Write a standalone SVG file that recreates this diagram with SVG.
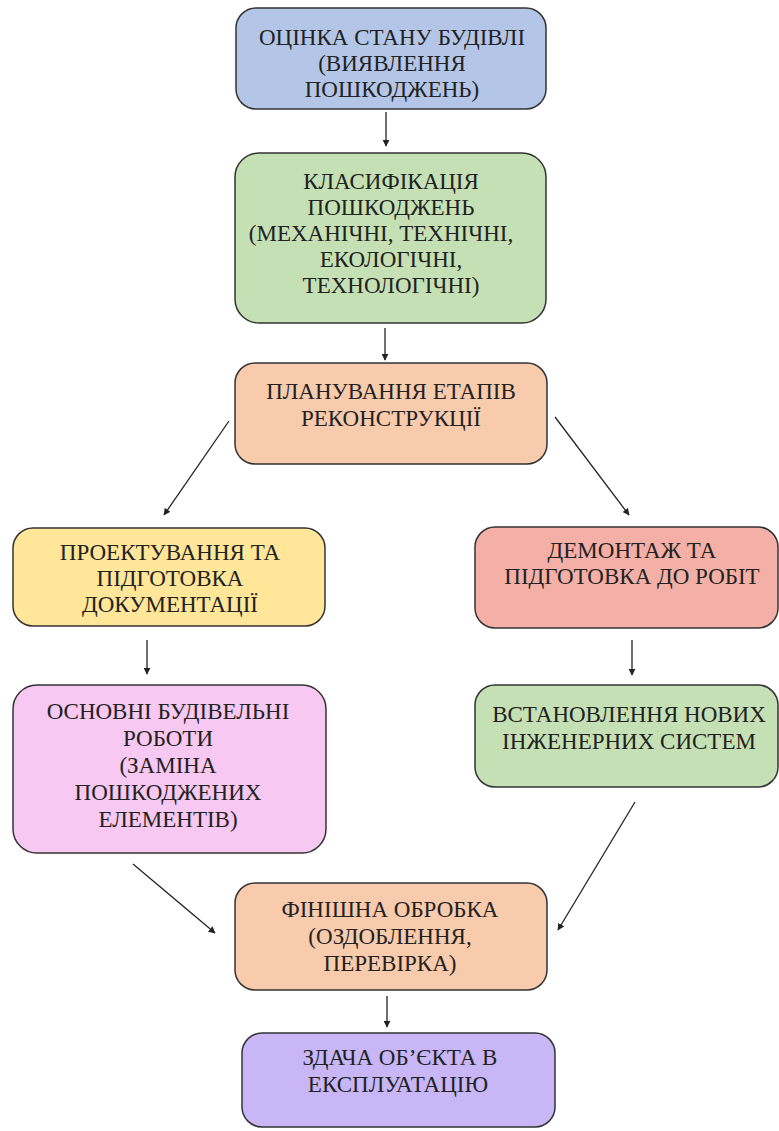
<svg xmlns="http://www.w3.org/2000/svg" width="779" height="1131" viewBox="0 0 779 1131">
<defs>
<style>
.b{stroke:#333;stroke-width:1.5}
.t{font-family:'Liberation Serif','Times New Roman',serif;font-size:23px;fill:#222;text-anchor:middle}
.c{stroke:#222;stroke-width:1.3;fill:none;marker-end:url(#ah)}
</style>
<marker id="ah" viewBox="0 0 10 10" refX="9" refY="5" markerWidth="7" markerHeight="7" orient="auto" markerUnits="userSpaceOnUse">
<path d="M0,0 L10,5 L0,10 z" fill="#222"/>
</marker>
</defs>
<rect width="779" height="1131" fill="#fff"/>
<g id="connectors">
<line class="c" x1="386" y1="112" x2="386" y2="146"/>
<line class="c" x1="385" y1="328" x2="385" y2="360"/>
<line class="c" x1="229" y1="421" x2="164" y2="515"/>
<line class="c" x1="555" y1="417" x2="629" y2="515"/>
<line class="c" x1="147" y1="640" x2="147" y2="674"/>
<line class="c" x1="632" y1="640" x2="632" y2="675"/>
<line class="c" x1="133" y1="864" x2="215" y2="933"/>
<line class="c" x1="635" y1="802" x2="558" y2="930"/>
<line class="c" x1="387" y1="996" x2="387" y2="1027"/>
</g>
<g id="n1">
<rect class="b" x="236" y="8" width="310" height="101" rx="20" fill="#b4c6e7"/>
<text class="t" x="392" y="45">ОЦІНКА СТАНУ БУДІВЛІ</text>
<text class="t" x="392" y="71">(ВИЯВЛЕННЯ</text>
<text class="t" x="392" y="97">ПОШКОДЖЕНЬ)</text>
</g>
<g id="n2">
<rect class="b" x="235" y="153" width="311" height="170" rx="24" fill="#c5e0b4"/>
<text class="t" x="391" y="189">КЛАСИФІКАЦІЯ</text>
<text class="t" x="391" y="215">ПОШКОДЖЕНЬ</text>
<text class="t" x="381" y="241">(МЕХАНІЧНІ, ТЕХНІЧНІ,</text>
<text class="t" x="391" y="267">ЕКОЛОГІЧНІ,</text>
<text class="t" x="391" y="293">ТЕХНОЛОГІЧНІ)</text>
</g>
<g id="n3">
<rect class="b" x="235" y="363" width="312" height="101" rx="20" fill="#f8cbad"/>
<text class="t" x="391" y="399">ПЛАНУВАННЯ ЕТАПІВ</text>
<text class="t" x="391" y="426">РЕКОНСТРУКЦІЇ</text>
</g>
<g id="n4">
<rect class="b" x="13" y="528" width="312" height="98" rx="20" fill="#ffe699"/>
<text class="t" x="170" y="560">ПРОЕКТУВАННЯ ТА</text>
<text class="t" x="170" y="586">ПІДГОТОВКА</text>
<text class="t" x="170" y="612">ДОКУМЕНТАЦІЇ</text>
</g>
<g id="n5">
<rect class="b" x="475" y="527" width="303" height="101" rx="20" fill="#f4b0a6"/>
<text class="t" x="632" y="558">ДЕМОНТАЖ ТА</text>
<text class="t" x="632" y="584">ПІДГОТОВКА ДО РОБІТ</text>
</g>
<g id="n6">
<rect class="b" x="13" y="685" width="313" height="168" rx="24" fill="#f7c8f1"/>
<text class="t" x="168" y="719">ОСНОВНІ БУДІВЕЛЬНІ</text>
<text class="t" x="168" y="746">РОБОТИ</text>
<text class="t" x="168" y="773">(ЗАМІНА</text>
<text class="t" x="168" y="800">ПОШКОДЖЕНИХ</text>
<text class="t" x="168" y="827">ЕЛЕМЕНТІВ)</text>
</g>
<g id="n7">
<rect class="b" x="475" y="685" width="303" height="102" rx="20" fill="#c5e0b4"/>
<text class="t" x="629" y="722">ВСТАНОВЛЕННЯ НОВИХ</text>
<text class="t" x="629" y="749">ІНЖЕНЕРНИХ СИСТЕМ</text>
</g>
<g id="n8">
<rect class="b" x="235" y="883" width="312" height="107" rx="20" fill="#f8cbad"/>
<text class="t" x="390" y="917">ФІНІШНА ОБРОБКА</text>
<text class="t" x="390" y="944">(ОЗДОБЛЕННЯ,</text>
<text class="t" x="390" y="971">ПЕРЕВІРКА)</text>
</g>
<g id="n9">
<rect class="b" x="242" y="1033" width="313" height="94" rx="20" fill="#c9b6f7"/>
<text class="t" x="400" y="1065">ЗДАЧА ОБ’ЄКТА В</text>
<text class="t" x="398" y="1092">ЕКСПЛУАТАЦІЮ</text>
</g>
</svg>
